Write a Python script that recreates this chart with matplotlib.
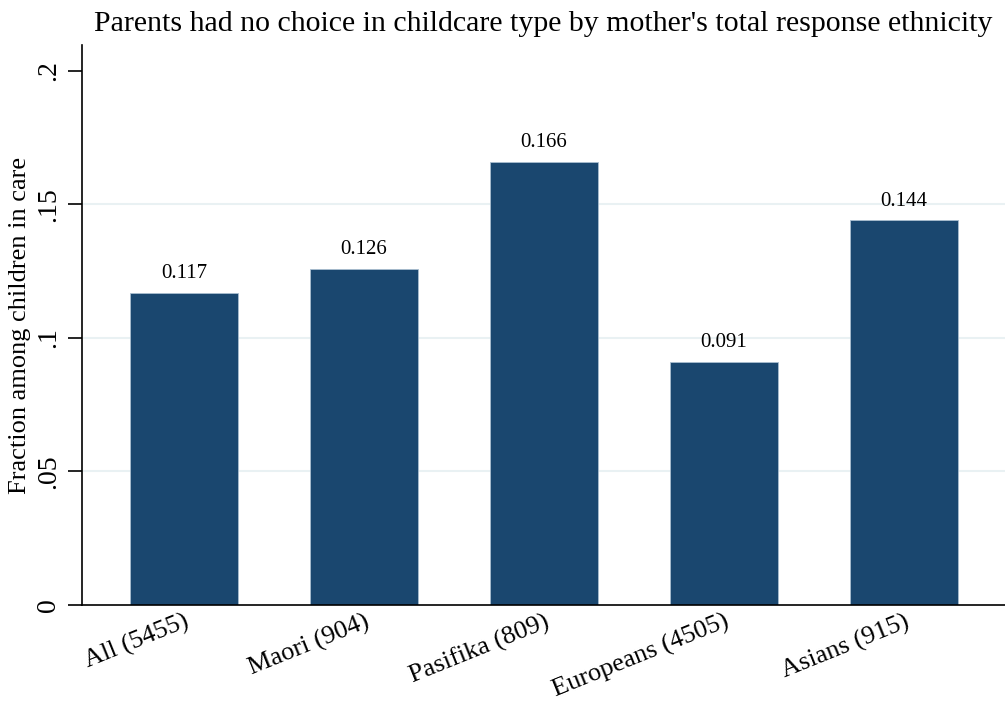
import numpy as np
import matplotlib.pyplot as plt

# Data
groups = ['All (5455)', 'Maori (904)', 'Pasifika (809)', 'Europeans (4505)', 'Asians (915)']
fractions = [0.117, 0.126, 0.166, 0.091, 0.144]
yticks = [0, 0.05, 0.1, 0.15, 0.2]
ytick_labels = ['0', '.05', '.1', '.15', '.2']

plt.rcParams['font.family'] = ['Liberation Serif', 'DejaVu Serif']

fig = plt.figure(figsize=(10.05, 7.08), dpi=100)
ax = fig.add_axes([82/1005, 103/708, 923/1005, 560/708])

x = np.arange(len(groups))
for v in [0.05, 0.1, 0.15]:
    ax.axhline(v, color='#e9f1f3', lw=1.5, zorder=0)

bars = ax.bar(x, fractions, width=0.6, color='#1a476f', edgecolor='#a9bed0', linewidth=0.6, zorder=2)
for xi, v in zip(x, fractions):
    ax.annotate(f'{v:.3f}', (xi, v), xytext=(0, 7), textcoords='offset points',
                ha='center', va='bottom', fontsize=15)

ax.set_xlim(-0.567, 4.561)
ax.set_ylim(0, 0.2097)
ax.set_xticks(x)
ax.set_xticklabels(groups, rotation=22, ha='right', va='top', rotation_mode='anchor', fontsize=19)
ax.tick_params(axis='x', length=0, pad=4)
ax.set_yticks(yticks)
ax.set_yticklabels(ytick_labels, rotation=90, va='center', fontsize=20)
ax.tick_params(axis='y', length=10, width=1.2, pad=5)

for s in ['top', 'right']:
    ax.spines[s].set_visible(False)
ax.spines['left'].set_linewidth(1.2)
ax.spines['bottom'].set_linewidth(1.2)

ax.set_ylabel('Fraction among children in care', fontsize=19, labelpad=4)
fig.text(543/1005, 1 - 24/708, "Parents had no choice in childcare type by mother's total response ethnicity",
         ha='center', va='center', fontsize=21.5)

plt.savefig('out.png', dpi=100)
